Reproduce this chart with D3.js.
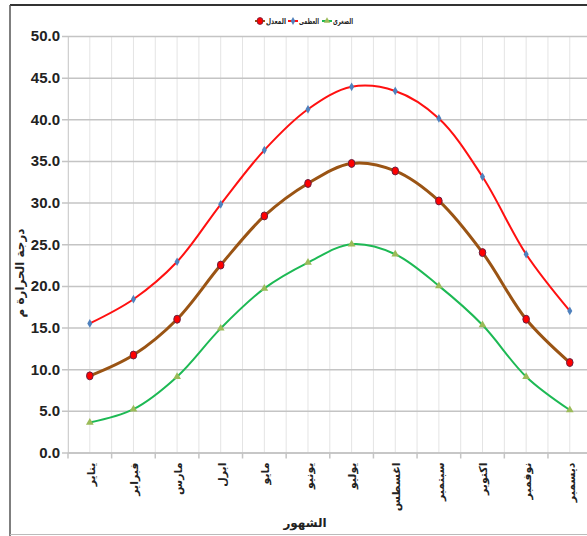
<!DOCTYPE html>
<html>
<head>
<meta charset="utf-8">
<script src="https://cdn.jsdelivr.net/npm/d3@7"></script>
<style>
  body { margin: 0; background: #fff; }
  text { font-family: "Liberation Sans Narrow", "Liberation Sans", Arial, sans-serif; font-weight: bold; }
</style>
</head>
<body>
<div id="canvas"></div>
<script>
const months = ["يناير", "فبراير", "مارس", "ابرل", "مايو", "يونيو", "يوليو", "اغسطس", "سبتمبر", "اكتوبر", "نوفمبر", "ديسمبر"];
const maxTemp = [15.5, 18.4, 22.9, 29.8, 36.3, 41.2, 43.9, 43.4, 40.1, 33.1, 23.8, 17.0];
const meanTemp = [9.2, 11.7, 16.0, 22.5, 28.4, 32.3, 34.7, 33.8, 30.2, 24.0, 16.0, 10.8];
const minTemp = [3.6, 5.2, 9.1, 14.9, 19.7, 22.8, 25.0, 23.8, 20.0, 15.3, 9.1, 5.1];
const yTicks = [0, 5, 10, 15, 20, 25, 30, 35, 40, 45, 50];

const width = 587;
const height = 536;
const margin = { top: 36, left: 68, bottom: 83.5, right: -5 };
const iwidth = 523.6;
const iheight = height - margin.top - margin.bottom;

const svg = d3.select("#canvas").append("svg")
  .attr("width", width)
  .attr("height", height);

// chart frame
svg.append("line").attr("x1", 10).attr("x2", width).attr("y1", 5).attr("y2", 5)
  .attr("stroke", "#333").attr("stroke-width", 2);
svg.append("line").attr("x1", 10).attr("x2", 10).attr("y1", 5).attr("y2", height)
  .attr("stroke", "#555").attr("stroke-width", 1.5);
svg.append("line").attr("x1", 10).attr("x2", width).attr("y1", 534.5).attr("y2", 534.5)
  .attr("stroke", "#bbb").attr("stroke-width", 1);

const g = svg.append("g")
  .attr("transform", `translate(${margin.left},${margin.top})`);

const x = d3.scaleBand().domain(months).range([0, iwidth]);
const y = d3.scaleLinear().domain([0, 50]).range([iheight, 0]);
const cx = (i) => x(months[i]) + x.bandwidth() / 2;

// vertical gridlines: band edges and centres
const vlines = [];
months.forEach((m) => { vlines.push(x(m)); vlines.push(x(m) + x.bandwidth() / 2); });
vlines.push(iwidth);
g.selectAll(".vgrid").data(vlines).enter().append("line")
  .attr("class", "vgrid")
  .attr("x1", (d) => d).attr("x2", (d) => d)
  .attr("y1", 0).attr("y2", iheight)
  .attr("stroke", "#e4e4e4").attr("stroke-width", 1);

// y axis with horizontal gridlines
const yAxis = g.append("g").call(
  d3.axisLeft(y).tickValues(yTicks).tickSize(-iwidth).tickPadding(8).tickFormat(d3.format(".1f"))
);
yAxis.select(".domain").attr("stroke", "#d0d0d0");
yAxis.selectAll(".tick line").attr("stroke", "#c4c4c4").attr("stroke-width", 1.5).attr("x1", -6);
yAxis.selectAll(".tick text").attr("font-size", 15).attr("fill", "#222")
  .style("font-family", '"Liberation Sans Narrow", Arial, sans-serif').attr("x", -8);

// x axis
const xAxis = g.append("g")
  .attr("transform", `translate(0,${iheight})`)
  .call(d3.axisBottom(x).tickSize(0).tickPadding(0));
xAxis.select(".domain").attr("stroke", "#c4c4c4").attr("stroke-width", 1.5);
xAxis.selectAll(".tick text")
  .attr("font-size", 11).attr("fill", "#222")
  .attr("text-anchor", "end")
  .attr("dy", "0.35em")
  .attr("transform", "translate(1,10) rotate(-90)")
  .attr("x", 0).attr("y", 0)
  .style("font-family", '"DejaVu Sans", sans-serif');
g.selectAll(".xtick").data(months.concat(["_end"])).enter().append("line")
  .attr("x1", (d, i) => i * x.bandwidth()).attr("x2", (d, i) => i * x.bandwidth())
  .attr("y1", iheight).attr("y2", iheight + 6)
  .attr("stroke", "#c4c4c4").attr("stroke-width", 1.5);

// axis titles
svg.append("text")
  .attr("transform", "translate(24,273) rotate(-90)")
  .attr("text-anchor", "middle")
  .attr("font-size", 12).attr("fill", "#222")
  .style("font-family", '"DejaVu Sans", sans-serif')
  .text("درجة الحرارة م");
svg.append("text")
  .attr("x", 305).attr("y", 527)
  .attr("text-anchor", "middle")
  .attr("font-size", 12).attr("fill", "#222")
  .style("font-family", '"DejaVu Sans", sans-serif')
  .text("الشهور");

// lines
const line = d3.line()
  .x((d, i) => cx(i))
  .y((d) => y(d))
  .curve(d3.curveCatmullRom.alpha(0.5));

g.append("path").datum(minTemp).attr("d", line)
  .attr("fill", "none").attr("stroke", "#1db954").attr("stroke-width", 2);
g.append("path").datum(maxTemp).attr("d", line)
  .attr("fill", "none").attr("stroke", "#ff1010").attr("stroke-width", 2);
g.append("path").datum(meanTemp).attr("d", line)
  .attr("fill", "none").attr("stroke", "#9a5414").attr("stroke-width", 3);

// markers
g.selectAll(".mmin").data(minTemp).enter().append("path")
  .attr("d", d3.symbol().type(d3.symbolTriangle).size(26))
  .attr("transform", (d, i) => `translate(${cx(i)},${y(d)})`)
  .attr("fill", "#9bbb59");
g.selectAll(".mmax").data(maxTemp).enter().append("path")
  .attr("d", d3.symbol().type(d3.symbolDiamond).size(22))
  .attr("transform", (d, i) => `translate(${cx(i)},${y(d)})`)
  .attr("fill", "#4f81bd");
g.selectAll(".mmean").data(meanTemp).enter().append("ellipse")
  .attr("cx", (d, i) => cx(i)).attr("cy", (d) => y(d))
  .attr("rx", 3.3).attr("ry", 4)
  .attr("fill", "#ff0000").attr("stroke", "#6a2040").attr("stroke-width", 1);

// legend
const legendItems = [
  { name: "المعدل", color: "#9a5414", fill: "#ff0000", sym: "circle", x: 255 },
  { name: "العظمى", color: "#ff1010", fill: "#4f81bd", sym: "diamond", x: 288 },
  { name: "الصغرى", color: "#1db954", fill: "#9bbb59", sym: "triangle", x: 322 }
];
const lg = svg.append("g").attr("transform", "translate(0,21)");
legendItems.forEach((d) => {
  lg.append("line").attr("x1", d.x).attr("x2", d.x + 10).attr("y1", 0).attr("y2", 0)
    .attr("stroke", d.color).attr("stroke-width", 2);
  if (d.sym === "circle") {
    lg.append("ellipse").attr("cx", d.x + 5).attr("cy", 0).attr("rx", 3).attr("ry", 3.5)
      .attr("fill", d.fill).attr("stroke", "#6a2040").attr("stroke-width", 0.8);
  } else {
    lg.append("path")
      .attr("d", d3.symbol().type(d.sym === "diamond" ? d3.symbolDiamond : d3.symbolTriangle).size(18))
      .attr("transform", `translate(${d.x + 5},0)`)
      .attr("fill", d.fill);
  }
  lg.append("text").attr("x", d.x + 11).attr("y", 3)
    .attr("text-anchor", "start")
    .attr("font-size", 8).attr("fill", "#222")
    .attr("textLength", 20).attr("lengthAdjust", "spacingAndGlyphs")
    .style("font-family", '"DejaVu Sans", sans-serif')
    .text(d.name);
});
</script>
</body>
</html>
